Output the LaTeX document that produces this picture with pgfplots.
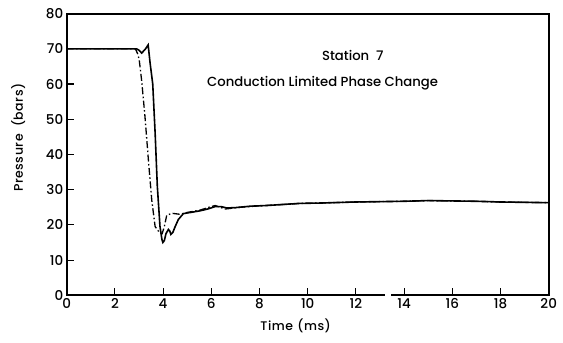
\documentclass[border=0pt]{standalone}
\usepackage{fontspec}
\setmainfont{Poppins}[UprightFont=* Medium, BoldFont=* SemiBold]
\newfontfamily\lblfont{Poppins}[UprightFont=* Medium, LetterSpace=4]
\usepackage{pgfplots}
\pgfplotsset{compat=1.18}

% measured pressure at station 7 (solid)
\pgfplotstableread{
t p
0 70
2.9 70
3.0 69.6
3.11 68.8
3.25 69.8
3.38 71.1
3.46 66
3.57 60
3.67 46
3.76 31
3.87 19.6
3.95 15.9
3.99 15.0
4.05 15.5
4.12 17.5
4.22 18.7
4.28 18.2
4.32 17.3
4.40 17.8
4.50 19.5
4.63 21.5
4.84 23.2
5.2 23.6
5.54 24.0
5.9 24.6
6.16 25.2
6.4 25.2
6.64 24.8
7.0 24.9
7.61 25.3
8.3 25.5
8.98 25.8
9.68 26.1
10.5 26.2
12 26.5
13 26.6
14 26.7
15 26.9
16 26.8
17 26.7
18 26.5
19 26.4
20 26.3
}\solid

% calculated pressure, conduction limited phase change (dash-dot)
\pgfplotstableread{
t p
0 70
2.85 70
2.95 68.5
3.01 66.8
3.11 61
3.25 50.6
3.39 38.4
3.53 27
3.67 19.5
3.85 17.8
3.96 17.5
4.05 19.5
4.15 22.7
4.36 23.3
4.7 23.0
4.98 23.5
5.54 24.2
5.9 25.0
6.16 25.5
6.57 24.5
7.2 25.0
8.0 25.4
9.0 25.8
9.68 26.1
10.5 26.2
12 26.5
13 26.6
14 26.7
15 26.9
16 26.8
17 26.7
18 26.5
19 26.4
20 26.3
}\calc

\begin{document}
\begin{tikzpicture}
\path[use as bounding box] (-66.7pt,-47pt) rectangle (496.3pt,295.3pt);
\begin{axis}[
  scale only axis,
  width=482pt, height=281.7pt,
  xmin=0, xmax=20, ymin=0, ymax=80,
  xtick={0,2,...,20}, ytick={0,10,...,80},
  tick pos=left,
  tick align=inside,
  major tick length=7pt,
  tick style={line width=1.1pt, black},
  axis line style={draw=none},
  clip=false,
  ticklabel style={font=\fontsize{13.5}{15}\selectfont},
  /pgf/number format/assume math mode=true,
  every axis x label/.style={at={(axis description cs:0.475,-0.110)}, anchor=center,
    font=\lblfont\fontsize{12.5}{15}\selectfont},
  every axis y label/.style={at={(axis description cs:-0.1004,0.56)}, rotate=90, anchor=center,
    font=\lblfont\fontsize{12.5}{15}\selectfont},
  xlabel={Time\hspace{0.35em}(ms)},
  ylabel={Pressure\ \ (bars)},
]
\addplot[black, line width=1.6pt] table[x=t, y=p] {\solid};
\addplot[black, line width=1.3pt, dash pattern=on 7pt off 2.5pt on 1.5pt off 2.5pt] table[x=t, y=p] {\calc};

% frame with a break in the time axis
\draw[line width=1.8pt, line cap=rect] (axis cs:13.15,0) -- (axis cs:0,0) -- (axis cs:0,80) -- (axis cs:20,80) -- (axis cs:20,0) -- (axis cs:13.5,0);

\node[font=\fontsize{13.2}{15}\selectfont] at (axis cs:11.87,68.2) {Station\ \ 7};
\node[font=\fontsize{13.2}{15}\selectfont] at (axis cs:10.62,60.3) {Conduction Limited Phase Change};
\end{axis}
\end{tikzpicture}
\end{document}
